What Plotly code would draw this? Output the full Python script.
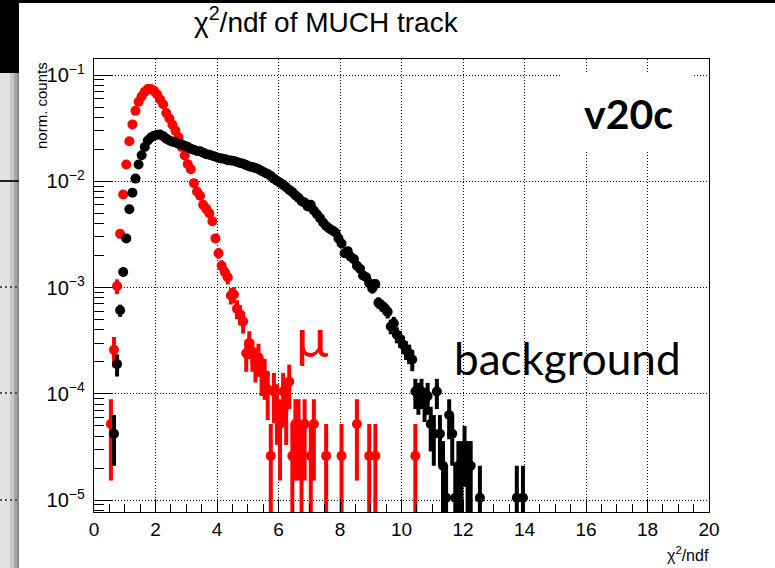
import plotly.graph_objects as go

# ---------------- data ----------------
# muon tracks (red): bin centres and normalised counts
mu_x = [0.55, 0.65, 0.75, 0.85, 0.95, 1.05, 1.15, 1.25, 1.35, 1.45,
        1.55, 1.65, 1.75, 1.85, 1.95, 2.05, 2.15, 2.25, 2.35, 2.45,
        2.55, 2.65, 2.75, 2.85, 2.95, 3.05, 3.15, 3.25, 3.35, 3.45,
        3.55, 3.65, 3.75, 3.85, 3.95, 4.05, 4.15, 4.25, 4.35, 4.45,
        4.55, 4.65, 4.75, 4.85, 4.95, 5.05, 5.15, 5.25, 5.35, 5.45,
        5.55, 5.65, 5.75, 5.85, 5.95, 6.05, 6.15, 6.25, 6.35, 6.45,
        6.55, 6.65, 6.75, 6.85, 7.05, 7.15, 7.55, 8.05, 8.55, 8.95,
        9.15, 10.45]
mu_y = [5.2e-5, 2.6e-4, 1.03e-3, 3.2e-3, 7.5e-3, 1.44e-2, 2.38e-2, 3.43e-2, 4.6e-2, 5.6e-2,
        6.3e-2, 6.95e-2, 7.4e-2, 7.4e-2, 7.1e-2, 6.6e-2, 5.9e-2, 5.3e-2, 4.4e-2, 3.9e-2,
        3.4e-2, 3.0e-2, 2.6e-2, 2.1e-2, 1.75e-2, 1.45e-2, 1.3e-2, 9.6e-3, 8.0e-3, 7.3e-3,
        6.0e-3, 5.5e-3, 5.0e-3, 4.2e-3, 2.9e-3, 2.1e-3, 1.6e-3, 1.4e-3, 1.25e-3, 8.4e-4,
        8.6e-4, 6.3e-4, 5.6e-4, 4.8e-4, 2.4e-4, 3.0e-4, 2.4e-4, 2.0e-4, 2.2e-4, 1.6e-4,
        1.5e-4, 1.1e-4, 2.6e-5, 1.05e-4, 7.8e-5, 5.2e-5, 1.05e-4, 7.8e-5, 1.3e-4, 2.6e-5,
        5.2e-5, 5.2e-5, 2.6e-5, 5.2e-5, 2.6e-5, 5.2e-5, 2.6e-5, 2.6e-5, 5.2e-5, 2.6e-5,
        2.6e-5, 2.6e-5]

# background tracks (black)
bg_x = [0.65, 0.75, 0.85, 0.95, 1.05, 1.15, 1.25, 1.35, 1.45, 1.55,
        1.65, 1.75, 1.85, 1.95, 2.05, 2.15, 2.25, 2.35, 2.45, 2.55,
        2.65, 2.75, 2.85, 2.95, 3.05, 3.15, 3.25, 3.35, 3.45, 3.55,
        3.65, 3.75, 3.85, 3.95, 4.05, 4.15, 4.25, 4.35, 4.45, 4.55,
        4.65, 4.75, 4.85, 4.95, 5.05, 5.15, 5.25, 5.35, 5.45, 5.55,
        5.65, 5.75, 5.85, 5.95, 6.05, 6.15, 6.25, 6.35, 6.45, 6.55,
        6.65, 6.75, 6.85, 6.95, 7.05, 7.15, 7.25, 7.35, 7.45, 7.55,
        7.65, 7.75, 7.85, 7.95, 8.05, 8.15, 8.25, 8.35, 8.45, 8.55,
        8.65, 8.75, 8.85, 8.95, 9.05, 9.15, 9.25, 9.35, 9.45, 9.55,
        9.65, 9.75, 9.85, 9.95, 10.05, 10.15, 10.25, 10.35, 10.45, 10.55,
        10.65, 10.75, 10.85, 10.95, 11.05, 11.15, 11.25, 11.35, 11.45, 11.55,
        11.65, 11.75, 11.85, 11.95, 12.05, 12.15, 12.25, 12.55, 13.75, 13.95]
bg_y = [4.2e-5, 1.9e-4, 6.1e-4, 1.4e-3, 2.9e-3, 5.45e-3, 7.8e-3, 1.06e-2, 1.44e-2, 1.76e-2,
        2.1e-2, 2.42e-2, 2.58e-2, 2.68e-2, 2.74e-2, 2.76e-2, 2.66e-2, 2.52e-2, 2.42e-2, 2.36e-2,
        2.32e-2, 2.26e-2, 2.22e-2, 2.16e-2, 2.10e-2, 2.02e-2, 1.98e-2, 1.93e-2, 1.92e-2, 1.86e-2,
        1.80e-2, 1.78e-2, 1.74e-2, 1.70e-2, 1.66e-2, 1.64e-2, 1.62e-2, 1.58e-2, 1.57e-2, 1.55e-2,
        1.52e-2, 1.49e-2, 1.46e-2, 1.42e-2, 1.38e-2, 1.36e-2, 1.33e-2, 1.30e-2, 1.25e-2, 1.21e-2,
        1.17e-2, 1.12e-2, 1.06e-2, 1.01e-2, 9.7e-3, 9.3e-3, 8.8e-3, 8.3e-3, 7.9e-3, 7.4e-3,
        7.0e-3, 6.5e-3, 6.3e-3, 5.8e-3, 6.0e-3, 5.3e-3, 4.9e-3, 4.5e-3, 4.1e-3, 3.8e-3,
        3.6e-3, 3.45e-3, 3.3e-3, 2.9e-3, 2.6e-3, 2.1e-3, 2.2e-3, 1.95e-3, 1.85e-3, 1.6e-3,
        1.5e-3, 1.3e-3, 1.25e-3, 1.1e-3, 9.8e-4, 1.08e-3, 7.2e-4, 6.8e-4, 6.4e-4, 5.9e-4,
        4.3e-4, 4.6e-4, 3.6e-4, 3.3e-4, 2.9e-4, 2.6e-4, 2.4e-4, 2.1e-4, 1.05e-4, 9.5e-5,
        1.05e-4, 8.4e-5, 9.5e-5, 5.2e-5, 4.2e-5, 1.05e-4, 4.2e-5, 2.1e-5, 1.05e-5, 6.3e-5,
        4.2e-5, 1.05e-5, 2.1e-5, 2.1e-5, 3.15e-5, 2.1e-5, 2.1e-5, 1.05e-5, 1.05e-5, 1.05e-5]

# weight of one entry in each normalised histogram (Poisson errors)
MU_UNIT = 2.6e-5
BG_UNIT = 1.05e-5

x_ticks = [0, 2, 4, 6, 8, 10, 12, 14, 16, 18, 20]

# ---------------- figure ----------------
W, H = 775, 568
L, R, T, B = 94, 709, 59, 512


def px(X, Y):
    return (X - L) / (R - L), (B - Y) / (B - T)


def errs(vals, unit):
    up = [(v * unit) ** 0.5 for v in vals]
    lo = [min(e, v * 0.9999) for e, v in zip(up, vals)]
    return up, lo


mu_up, mu_lo = errs(mu_y, MU_UNIT)
bg_up, bg_lo = errs(bg_y, BG_UNIT)

fig = go.Figure()
fig.add_trace(go.Scatter(
    x=mu_x, y=mu_y, mode="markers", name="μ",
    marker=dict(color="#ff0000", size=10, line=dict(width=0)),
    error_y=dict(type="data", array=mu_up, arrayminus=mu_lo, symmetric=False,
                 color="#ff0000", thickness=4, width=0),
    showlegend=False))
fig.add_trace(go.Scatter(
    x=bg_x, y=bg_y, mode="markers", name="background",
    marker=dict(color="#000000", size=10, line=dict(width=0)),
    error_y=dict(type="data", array=bg_up, arrayminus=bg_lo, symmetric=False,
                 color="#000000", thickness=4, width=0),
    showlegend=False))

font = "Liberation Sans, Arial, Helvetica, sans-serif"

fig.update_layout(
    width=W, height=H,
    margin=dict(l=L, r=W - R, t=T, b=H - B),
    paper_bgcolor="white", plot_bgcolor="white",
    font=dict(family=font, color="black"),
    xaxis=dict(range=[0, 20], tickvals=x_ticks, ticks="inside", ticklen=13,
               tickwidth=1, tickcolor="black", showline=True, linecolor="black",
               linewidth=1, mirror=True, showgrid=True, gridcolor="#000000",
               griddash="1px,2px", gridwidth=1, zeroline=False,
               tickfont=dict(size=19, family=font),
               minor=dict(ticks="inside", ticklen=8, dtick=0.5,
                          tickcolor="black", showgrid=False)),
    yaxis=dict(type="log", range=[-5.113, -0.849], dtick=1,
               exponentformat="power", ticks="inside", ticklen=18,
               tickwidth=1, tickcolor="black", showline=True, linecolor="black",
               linewidth=1, mirror=True, showgrid=True, gridcolor="#000000",
               griddash="1px,2px", gridwidth=1, zeroline=False,
               ticklabelstandoff=5,
               tickfont=dict(size=16, family=font),
               minor=dict(ticks="inside", ticklen=10, dtick="D1",
                          tickcolor="black", showgrid=False)),
)

shapes = []
# screenshot artefacts at the left / top edges
def rect(x0, y0, x1, y1, color):
    a0, b0 = px(x0, y0)
    a1, b1 = px(x1, y1)
    return dict(type="rect", xref="paper", yref="paper", x0=a0, y0=b0, x1=a1, y1=b1,
                fillcolor=color, line=dict(width=0), layer="above")

shapes.append(rect(0, 0, W, 3, "#000000"))
shapes.append(rect(0, 0, 19, 73, "#000000"))
shapes.append(rect(0, 73, 10, H, "#e2e2e2"))
shapes.append(rect(10, 73, 14, H, "#c8c8c8"))
shapes.append(rect(14, 73, 17, H, "#a6a6a6"))
shapes.append(rect(17, 73, 19, H, "#8a8a8a"))
a0, b0 = px(0, 181)
a1, _ = px(19, 181)
shapes.append(dict(type="line", xref="paper", yref="paper", x0=a0, x1=a1, y0=b0, y1=b0,
                   line=dict(color="#222222", width=2), layer="above"))
for yy in (287, 393, 500):
    a0, b0 = px(0, yy)
    a1, _ = px(19, yy)
    shapes.append(dict(type="line", xref="paper", yref="paper", x0=a0, x1=a1, y0=b0, y1=b0,
                       line=dict(color="#555555", width=2, dash="2px,3px"), layer="above"))
# white box behind the "v20c" label
shapes.append(rect(560, 72, 693, 151, "#ffffff"))
fig.update_layout(shapes=shapes)

ann = []
def label(X, Y, text, size, color="black", fam=font, angle=0, xanchor="center", bold=False):
    a, b = px(X, Y)
    ann.append(dict(x=a, y=b, xref="paper", yref="paper", text=text, showarrow=False,
                    xanchor=xanchor, yanchor="middle", textangle=angle,
                    font=dict(size=size, color=color, family=fam,
                              weight="bold" if bold else "normal")))

label(326, 20, "χ<sup>2</sup>/ndf of MUCH track", 28)
label(711, 554, "χ<sup>2</sup>/ndf", 16, xanchor="right")
label(42, 106, "norm. counts", 15, angle=-90)
label(628, 114, "v20c", 41, fam="Lato, Carlito, sans-serif", bold=True)
label(567, 358, "background", 44, fam="Lato, Carlito, sans-serif")
label(312, 336, "μ", 54, color="#ff0000", fam="Lato, Carlito, sans-serif")
fig.update_layout(annotations=ann)

fig.write_html("out.html", config={"displayModeBar": False, "staticPlot": True})

# remove the default page margin so the figure sits at the window's top-left corner
with open("out.html", "r", encoding="utf-8") as fh:
    page = fh.read()
page = page.replace("<head>", "<head><style>html,body{margin:0;padding:0;overflow:hidden;}</style>", 1)
with open("out.html", "w", encoding="utf-8") as fh:
    fh.write(page)
